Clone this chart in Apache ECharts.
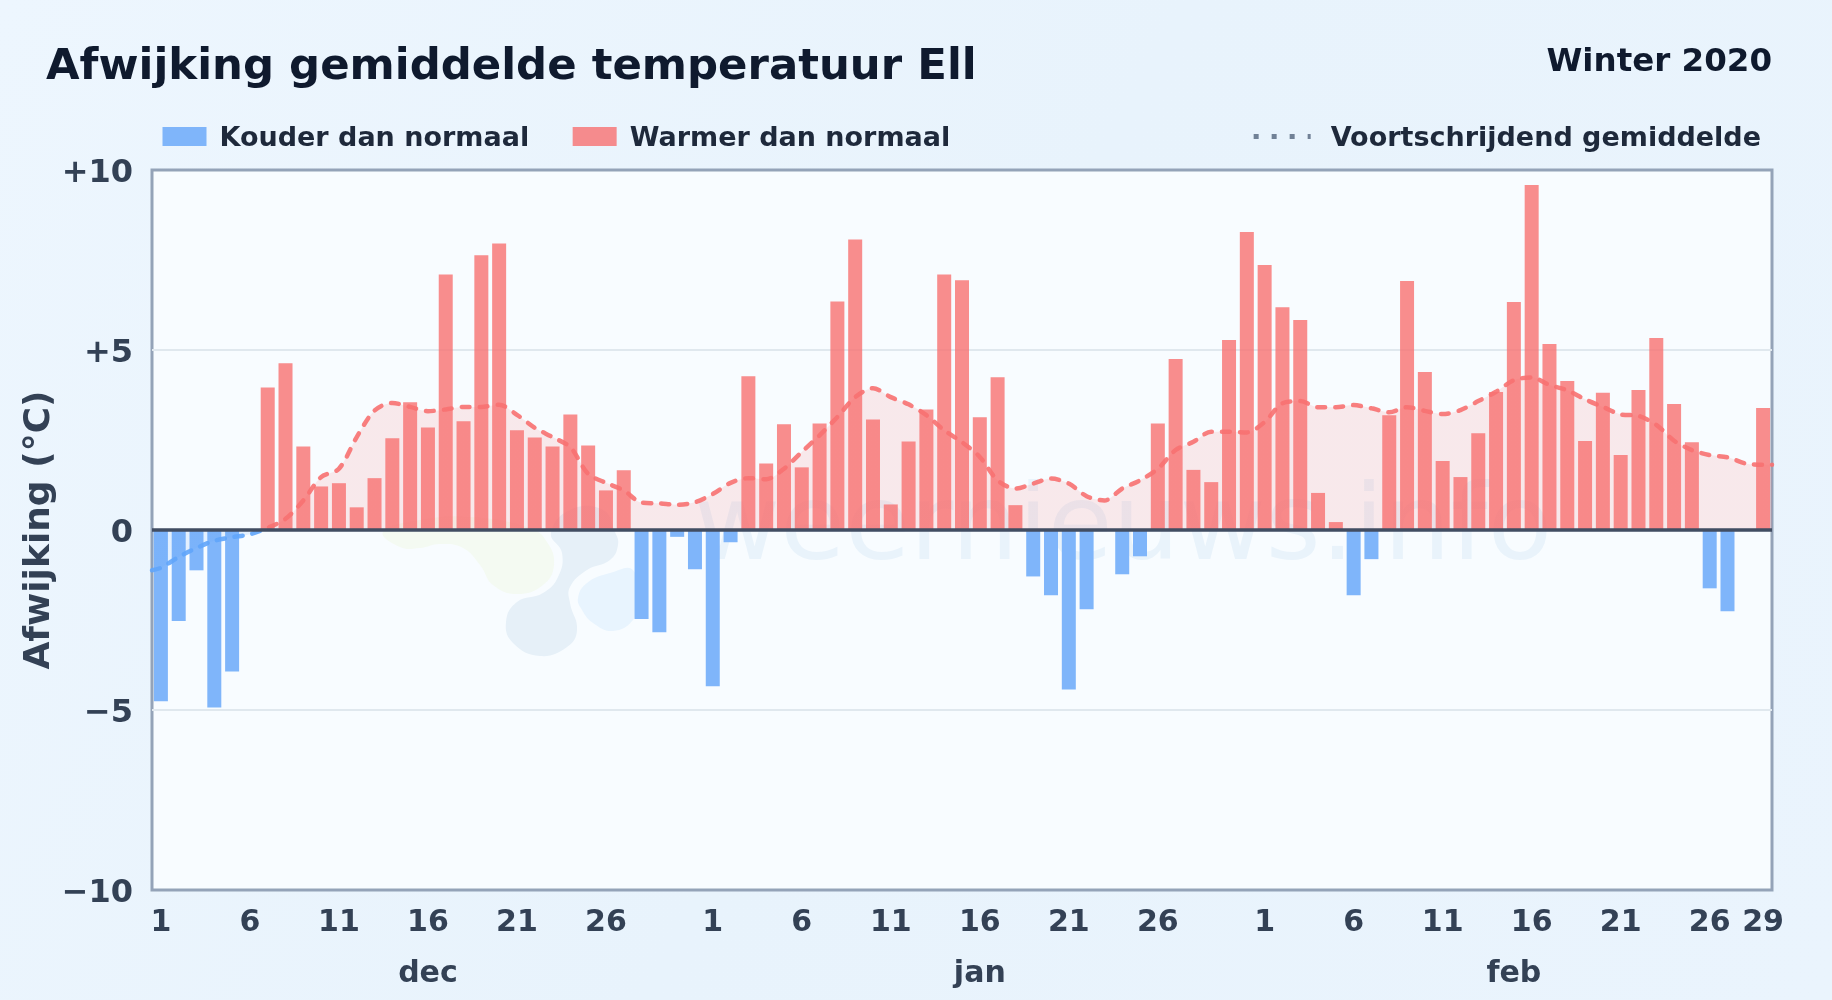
<!DOCTYPE html>
<html lang="nl"><head><meta charset="utf-8">
<style>html,body{margin:0;padding:0;background:#e9f3fc}#c{width:1832px;height:1000px}</style>
<script src="https://cdn.jsdelivr.net/npm/echarts@6/dist/echarts.min.js"></script>
</head><body><div id="c"></div>
<script>
const categories = [
'1 dec','2 dec','3 dec','4 dec','5 dec','6 dec','7 dec','8 dec','9 dec','10 dec','11 dec','12 dec','13 dec','14 dec','15 dec','16 dec','17 dec','18 dec','19 dec','20 dec','21 dec','22 dec','23 dec','24 dec','25 dec','26 dec','27 dec','28 dec','29 dec','30 dec','31 dec',
'1 jan','2 jan','3 jan','4 jan','5 jan','6 jan','7 jan','8 jan','9 jan','10 jan','11 jan','12 jan','13 jan','14 jan','15 jan','16 jan','17 jan','18 jan','19 jan','20 jan','21 jan','22 jan','23 jan','24 jan','25 jan','26 jan','27 jan','28 jan','29 jan','30 jan','31 jan',
'1 feb','2 feb','3 feb','4 feb','5 feb','6 feb','7 feb','8 feb','9 feb','10 feb','11 feb','12 feb','13 feb','14 feb','15 feb','16 feb','17 feb','18 feb','19 feb','20 feb','21 feb','22 feb','23 feb','24 feb','25 feb','26 feb','27 feb','28 feb','29 feb'];
const anomaly = [
-4.76,-2.53,-1.12,-4.93,-3.93,0,3.96,4.63,2.32,1.21,1.30,0.63,1.44,2.55,3.55,2.85,7.10,3.02,7.63,7.96,2.77,2.57,2.32,3.21,2.35,1.10,1.66,-2.47,-2.84,-0.19,-1.09,
-4.34,-0.34,4.27,1.85,2.94,1.74,2.96,6.35,8.07,3.07,0.71,2.46,3.35,7.10,6.94,3.13,4.24,0.69,-1.29,-1.81,-4.43,-2.20,0,-1.23,-0.73,2.96,4.75,1.67,1.33,5.28,8.28,
7.36,6.19,5.83,1.03,0.22,-1.81,-0.81,3.19,6.92,4.39,1.92,1.47,2.69,3.83,6.33,9.58,5.17,4.14,2.47,3.81,2.08,3.89,5.33,3.50,2.44,-1.62,-2.26,0,3.39];
const movingAverage = [
-1.05,-0.75,-0.50,-0.30,-0.20,-0.12,0.06,0.31,0.82,1.47,1.70,2.58,3.32,3.53,3.42,3.30,3.35,3.42,3.42,3.48,3.20,2.84,2.58,2.30,1.56,1.31,1.10,0.76,0.74,0.70,0.77,
1.00,1.31,1.44,1.41,1.70,2.17,2.63,3.14,3.69,3.94,3.69,3.49,3.19,2.77,2.44,2.03,1.38,1.15,1.29,1.43,1.29,0.94,0.82,1.15,1.38,1.70,2.22,2.45,2.73,2.73,2.71,
3.00,3.52,3.58,3.41,3.41,3.47,3.38,3.27,3.41,3.31,3.22,3.33,3.58,3.84,4.16,4.24,4.03,3.88,3.63,3.42,3.21,3.17,2.92,2.48,2.22,2.08,2.02,1.85,1.81];
const edgeValues = [-1.12, 1.81];
const tickLabels = ['1 dec','6 dec','11 dec','16 dec','21 dec','26 dec','1 jan','6 jan','11 jan','16 jan','21 jan','26 jan','1 feb','6 feb','11 feb','16 feb','21 feb','26 feb','29 feb'];
const monthLabels = {'16 dec':'dec','16 jan':'jan','15 feb':'feb'};
const yTicks = {'10':'+10','5':'+5','0':'0','-5':'\u22125','-10':'\u221210'};
const seriesNames = ['Kouder dan normaal','Warmer dan normaal','Voortschrijdend gemiddelde'];

const FONT = '"DejaVu Sans", sans-serif';
const coldBars = anomaly.map(v => v < 0 ? v : null);
const warmBars = anomaly.map(v => v > 0 ? v : null);
const linePoints = [[-0.5, edgeValues[0]], ...movingAverage.map((v,i)=>[i,v]), [90.5, edgeValues[1]]];
const signGradient = (warm, cold) => ({type:'linear',x:0,y:170,x2:0,y2:890,global:true,colorStops:[{offset:0,color:warm},{offset:.5,color:warm},{offset:.5,color:cold},{offset:1,color:cold}]});
const legendRich = left => ({t:{fontFamily:FONT,fontWeight:'bold',fontSize:27,color:'#1e293b',padding:[5,0,0,left]}});

const blob = (pts, fill) => ({type:'polygon', silent:true, z:0, shape:{points:pts, smooth:0.45}, style:{fill}});
const chart = echarts.init(document.getElementById('c'), null, {renderer:'canvas'});
chart.setOption({
  animation:false,
  backgroundColor:{type:'linear',x:0,y:0,x2:1,y2:1,colorStops:[{offset:0,color:'#edf6fe'},{offset:.5,color:'#e8f3fc'},{offset:1,color:'#eaf4fd'}]},
  title:[
    {text:'Afwijking gemiddelde temperatuur Ell',left:41,top:41,textStyle:{fontFamily:FONT,fontWeight:'bold',fontSize:43.4,color:'#0f1a2e'}},
    {text:'Winter 2020',right:55,top:41,textStyle:{fontFamily:FONT,fontWeight:'bold',fontSize:32.5,color:'#0f1a2e'}}
  ],
  legend:[
    {data:[seriesNames[0],seriesNames[1]],left:157.5,top:120.5,itemWidth:44,itemHeight:19,itemGap:43.5,icon:'rect',
     formatter:n=>'{t|'+n+'}',textStyle:{rich:legendRich(8)},selectedMode:false},
    {data:[{name:seriesNames[2],itemStyle:{opacity:0}}],right:66,top:120.5,itemWidth:57,itemHeight:19,itemGap:0,
     lineStyle:{color:'#64748b',width:5,type:[5,13],cap:'butt',inactiveColor:'#64748b'},
     formatter:n=>'{t|'+n+'}',textStyle:{rich:legendRich(15)},selectedMode:false}
  ],
  grid:{left:152,right:60,top:170,height:720,show:true,backgroundColor:'#f8fcff',borderColor:'#94a3b8',borderWidth:3,containLabel:false,outerBoundsMode:'none'},
  xAxis:[
    {type:'category',data:categories,gridIndex:0,boundaryGap:true,axisTick:{show:false},axisLine:{show:false,onZero:false},splitLine:{show:false},
     axisLabel:{interval:i=>tickLabels.includes(categories[i]),formatter:v=>v.split(' ')[0],fontFamily:FONT,fontWeight:'bold',fontSize:30,color:'#334155',margin:18,hideOverlap:false,showMinLabel:true,showMaxLabel:true}},
    {type:'category',data:categories,position:'bottom',offset:51,axisTick:{show:false},axisLine:{show:false,onZero:false},splitLine:{show:false},
     axisLabel:{interval:i=>categories[i] in monthLabels,formatter:v=>monthLabels[v]||'',fontFamily:FONT,fontWeight:'bold',fontSize:30,color:'#334155',margin:18,hideOverlap:false}},
    {type:'value',min:-0.5,max:90.5,show:false,axisLine:{onZero:false},splitLine:{show:false}}
  ],
  yAxis:{type:'value',min:-10,max:10,interval:5,
    name:'Afwijking (\u00b0C)',nameLocation:'middle',nameRotate:90,nameGap:94,nameMoveOverlap:false,
    nameTextStyle:{fontFamily:FONT,fontWeight:'bold',fontSize:36,color:'#334155'},
    axisLine:{show:false},axisTick:{show:false},
    axisLabel:{formatter:v=>'{t|'+yTicks[String(v)]+'}',margin:19,rich:{t:{fontFamily:FONT,fontWeight:'bold',fontSize:32,color:'#334155',padding:[7,0,0,0]}}},
    splitLine:{show:true,showMinLine:false,showMaxLine:false,lineStyle:{color:'#e0e8ee',width:2}}},
  series:[
    {name:seriesNames[0],type:'bar',xAxisIndex:0,data:coldBars,barWidth:14,barGap:'-100%',z:3,itemStyle:{color:'#7fb5fa'},
     markLine:{silent:true,symbol:'none',z:6,label:{show:false},lineStyle:{color:'#414d62',width:3.5,type:'solid'},data:[{yAxis:0}],animation:false}},
    {name:seriesNames[1],type:'bar',xAxisIndex:0,data:warmBars,barWidth:14,barGap:'-100%',z:3,itemStyle:{color:'rgba(248,113,113,0.8)'}},
    {name:seriesNames[2],type:'line',xAxisIndex:2,data:linePoints,showSymbol:false,symbol:'none',smooth:0.3,z:4,
     itemStyle:{color:'#64748b'},
     lineStyle:{width:4.5,type:[8,10],cap:'round',opacity:0.9,color:signGradient('#f87171','#60a5fa')},
     areaStyle:{opacity:0.14,color:signGradient('#f87171','#60a5fa')}}
  ],
  graphic:[
    blob([[383,532],[400,547],[420,548],[440,544],[463,548],[480,565],[493,585],[517,594],[543,585],[554,565],[547,542],[530,528],[470,517],[420,520]],'#f4faf2'),
    blob([[551,533],[562,553],[558,577],[543,593],[517,602],[506,622],[513,643],[540,656],[567,647],[577,630],[570,603],[570,587],[587,570],[610,560],[618,545],[615,532],[603,510],[570,510]],'#e6f0f8'),
    blob([[578,598],[587,583],[610,573],[633,570],[637,603],[633,620],[613,631],[593,623],[582,610]],'#e8f4fe'),
    {type:'text',silent:true,z:0,x:694,y:479,style:{text:'weernieuws.info',fontFamily:FONT,fontSize:105.5,fill:'#e9f3fb'}}
  ]
});
</script></body></html>
